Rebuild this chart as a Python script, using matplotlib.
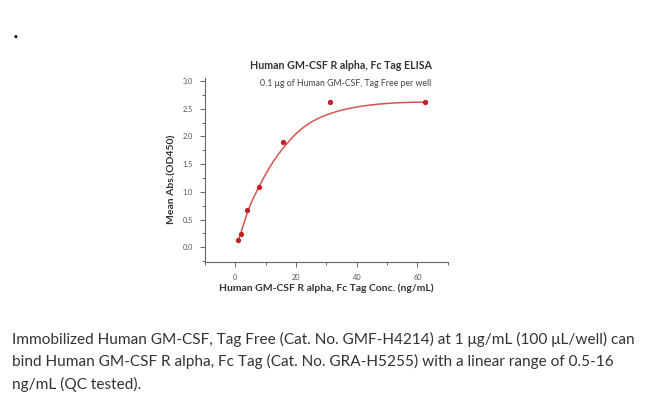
import numpy as np
import matplotlib.pyplot as plt

# data
conc = np.array([0.98, 1.95, 3.9, 7.8, 15.6, 31.25, 62.5])
od450 = np.array([0.13, 0.24, 0.67, 1.09, 1.90, 2.62, 2.62])
xticks = [0, 20, 40, 60]
yticks = [0.0, 0.5, 1.0, 1.5, 2.0, 2.5, 3.0]

title = "Human GM-CSF R alpha, Fc Tag ELISA"
subtitle = "0.1 \u03bcg of Human GM-CSF, Tag Free per well"
xlabel = "Human GM-CSF R alpha, Fc Tag Conc. (ng/mL)"
ylabel = "Mean Abs.(OD450)"
caption = ("Immobilized Human GM-CSF, Tag Free (Cat. No. GMF-H4214) at 1 \u03bcg/mL (100 \u03bcL/well) can\n"
           "bind Human GM-CSF R alpha, Fc Tag (Cat. No. GRA-H5255) with a linear range of 0.5-16\n"
           "ng/mL (QC tested).")


def bspline(px, py, n=400, k=3):
    # clamped cubic B-spline using the data points as control points
    m = len(px)
    knots = np.concatenate([np.zeros(k), np.arange(m - k + 1), np.full(k, m - k)]).astype(float)
    t = np.linspace(0, m - k, n)
    t[-1] -= 1e-9

    def basis(i, d, tt):
        if d == 0:
            return ((knots[i] <= tt) & (tt < knots[i + 1])).astype(float)
        out = np.zeros_like(tt)
        den1 = knots[i + d] - knots[i]
        den2 = knots[i + d + 1] - knots[i + 1]
        if den1 > 0:
            out += (tt - knots[i]) / den1 * basis(i, d - 1, tt)
        if den2 > 0:
            out += (knots[i + d + 1] - tt) / den2 * basis(i + 1, d - 1, tt)
        return out

    B = np.array([basis(i, k, t) for i in range(m)])
    return B.T @ px, B.T @ py


cx, cy = bspline(conc, od450)

plt.rcParams['font.family'] = ['Lato', 'DejaVu Sans']

fig = plt.figure(figsize=(6.5, 3.99), dpi=100)
ax = fig.add_axes([0.315, 0.343, 0.374, 0.462])

ax.plot(cx, cy, color="#d9534f", lw=1.1)
ax.plot(conc, od450, "o", color="#c0202a", ms=2.8)

ax.set_xlim(-10, 70)
ax.set_ylim(-0.27, 3.06)
ax.set_xticks(xticks)
ax.set_yticks(yticks)
ax.set_xticks([-10, 10, 30, 50, 70], minor=True)
ax.set_yticks(np.arange(-0.25, 3.0, 0.5), minor=True)
ax.set_yticklabels([f"{v:.1f}" for v in yticks])

for s in ["top", "right"]:
    ax.spines[s].set_visible(False)
for s in ["left", "bottom"]:
    ax.spines[s].set_color("#666666")
    ax.spines[s].set_linewidth(0.8)
ax.tick_params(which="both", direction="out", colors="#666666", labelsize=5.3,
               labelcolor="#555555", width=0.7)
ax.tick_params(which="major", length=3.5, pad=5)
ax.tick_params(which="minor", length=2)

ax.set_xlabel(xlabel, fontsize=7.5, fontweight="bold", color="#333333", labelpad=2)
ax.set_ylabel(ylabel, fontsize=7.5, fontweight="bold", color="#333333", labelpad=3)
ax.yaxis.set_label_coords(-0.115, 0.45)

fig.text(0.525, 0.835, title, ha="center", va="center", fontsize=7.7,
         fontweight="bold", color="#333333")
fig.text(0.531, 0.791, subtitle, ha="center", va="center", fontsize=6.3,
         color="#444444")

fig.text(0.023, 0.905, "\u25aa", ha="center", va="center", fontsize=7, color="black")

fig.text(0.018, 0.093, caption, ha="left", va="center", fontsize=11.1,
         color="#333333", linespacing=1.62)

fig.savefig("out.png", dpi=100)
